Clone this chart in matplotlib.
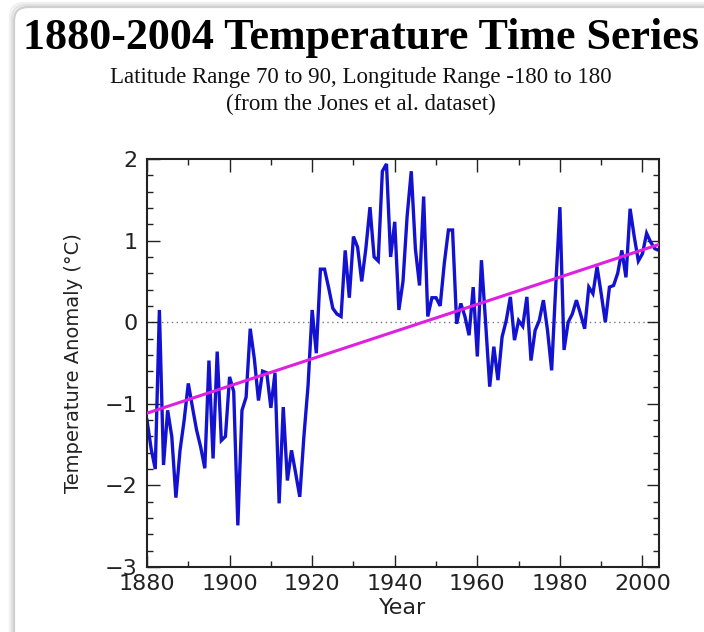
import numpy as np
import matplotlib
matplotlib.use("Agg")
import matplotlib.pyplot as plt
from matplotlib.patches import FancyBboxPatch
from matplotlib.ticker import MultipleLocator

# ---- data ----
years = list(range(1880, 2005))
anomaly = [
    -1.20, -1.55, -1.80, 0.15, -1.75, -1.08, -1.40, -2.15, -1.57, -1.20,   # 1880-1889
    -0.75, -1.04, -1.32, -1.53, -1.79, -0.47, -1.67, -0.36, -1.45, -1.40,  # 1890-1899
    -0.67, -0.85, -2.49, -1.08, -0.92, -0.08, -0.45, -0.96, -0.60, -0.62,  # 1900-1909
    -1.05, -0.62, -2.22, -1.04, -1.94, -1.57, -1.85, -2.14, -1.40, -0.78,  # 1910-1919
    0.15, -0.38, 0.65, 0.65, 0.42, 0.17, 0.10, 0.07, 0.88, 0.30,          # 1920-1929
    1.05, 0.92, 0.50, 0.90, 1.41, 0.80, 0.75, 1.85, 1.94, 0.80,           # 1930-1939
    1.23, 0.15, 0.50, 1.30, 1.85, 0.90, 0.45, 1.54, 0.07, 0.30,           # 1940-1949
    0.30, 0.20, 0.72, 1.13, 1.13, -0.02, 0.23, 0.07, -0.16, 0.43,         # 1950-1959
    -0.42, 0.76, 0.00, -0.79, -0.30, -0.71, -0.18, 0.02, 0.31, -0.22,     # 1960-1969
    0.02, -0.05, 0.31, -0.47, -0.10, 0.02, 0.27, -0.10, -0.59, 0.45,      # 1970-1979
    1.41, -0.34, 0.00, 0.10, 0.27, 0.10, -0.08, 0.43, 0.35, 0.68,         # 1980-1989
    0.35, 0.00, 0.43, 0.45, 0.60, 0.88, 0.55, 1.39, 1.05, 0.75,           # 1990-1999
    0.84, 1.09, 0.98, 0.90, 0.88,                                          # 2000-2004
]
x_ticks = [1880, 1900, 1920, 1940, 1960, 1980, 2000]
y_ticks = [-3, -2, -1, 0, 1, 2]

title = "1880-2004 Temperature Time Series"
subtitle1 = "Latitude Range 70 to 90, Longitude Range -180 to 180"
subtitle2 = "(from the Jones et al. dataset)"

# ---- figure ----
W, H = 704, 632
fig = plt.figure(figsize=(W / 100, H / 100), dpi=100)
fig.patch.set_facecolor("white")

# outer framed panel (screenshot border)
for off, col in [(4, "#f0f0f0"), (2, "#e2e2e2"), (0, "#cfcfcf")]:
    fig.patches.append(FancyBboxPatch((14 - off, -40), W + 40, H + 40 - 7 + off,
                                      boxstyle="round,pad=0,rounding_size=14",
                                      transform=None, facecolor="none",
                                      edgecolor=col, linewidth=1.6, zorder=-10))

fig.text(361 / W, 1 - 38 / H, title, ha="center", va="center",
         fontsize=31.7, fontweight="bold", family="Liberation Serif", color="black")
fig.text(361 / W, 1 - 77 / H, subtitle1, ha="center", va="center",
         fontsize=16.5, family="Liberation Serif", color="#111111")
fig.text(361 / W, 1 - 104 / H, subtitle2, ha="center", va="center",
         fontsize=16.5, family="Liberation Serif", color="#111111")

left, right, top, bottom = 147, 659, 159, 567
ax = fig.add_axes([left / W, 1 - bottom / H, (right - left) / W, (bottom - top) / H])
ax.set_facecolor("white")

x = np.array(years, dtype=float)
y = np.array(anomaly, dtype=float)

ax.axhline(0, color="#777777", linestyle=(0, (1, 2.5)), linewidth=1.0, zorder=1)
ax.plot(x, y, color="#1212d0", linewidth=2.4, zorder=2, solid_joinstyle="miter")

coef = np.polyfit(x, y, 1)
xt = np.array([1880, 2004], dtype=float)
ax.plot(xt, np.polyval(coef, xt), color="#e020e0", linewidth=2.2, zorder=3)

ax.set_xlim(1880, 2004)
ax.set_ylim(-3, 2)
ax.set_xticks(x_ticks)
ax.set_yticks(y_ticks)
ax.set_yticklabels(["\u2212" + str(abs(v)) if v < 0 else str(v) for v in y_ticks])
ax.xaxis.set_minor_locator(MultipleLocator(10))
ax.yaxis.set_minor_locator(MultipleLocator(0.2))

ax.tick_params(which="both", direction="in", top=True, right=True,
               color="#222222", width=1.0, labelcolor="#222222")
ax.tick_params(which="major", length=9, labelsize=16)
ax.tick_params(which="minor", length=4.5)
ax.tick_params(axis="x", which="major", pad=5)
ax.tick_params(axis="y", which="major", pad=7)
for s in ax.spines.values():
    s.set_linewidth(1.5)
    s.set_color("#222222")

ax.set_xlabel("Year", fontsize=16, color="#222222")
ax.set_ylabel("Temperature Anomaly (\u00b0C)", fontsize=14, color="#222222")
ax.xaxis.set_label_coords(0.5, -0.075)
ax.yaxis.set_label_coords(-0.125, 0.5)

fig.savefig("out.png", dpi=100, facecolor="white")
